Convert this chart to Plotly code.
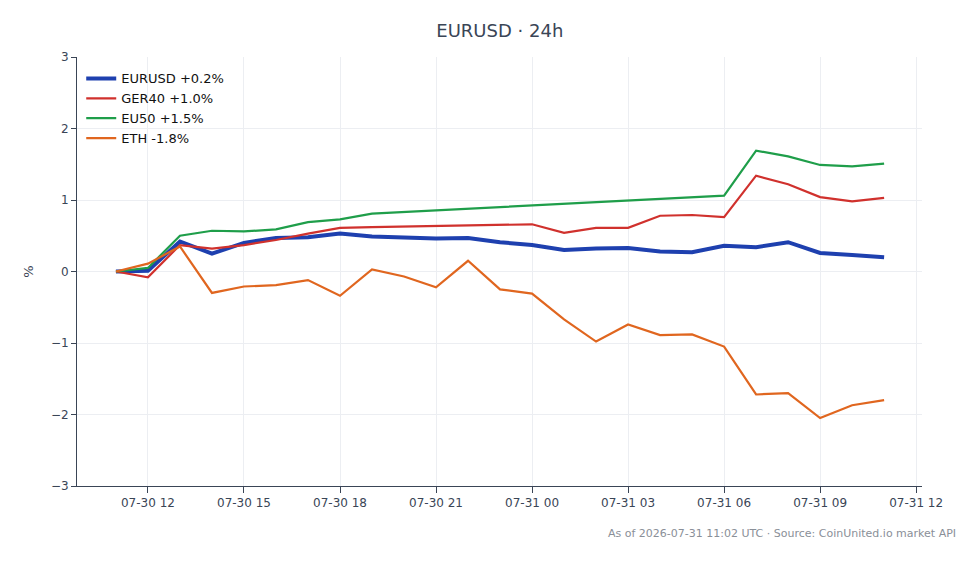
import plotly.graph_objects as go
import pandas as pd

times = pd.date_range("2026-07-30 11:00", periods=25, freq="h")

eurusd = [0.00, 0.01, 0.42, 0.25, 0.40, 0.47, 0.48, 0.53, 0.49, 0.47, 0.46, 0.47, 0.41,
          0.37, 0.30, 0.32, 0.33, 0.28, 0.27, 0.36, 0.34, 0.41, 0.26, 0.23, 0.20]
ger40 = [0.00, -0.08, 0.37, 0.32, 0.37, 0.44, 0.53, 0.61, 0.62, 0.63, 0.64, 0.64, 0.65,
         0.66, 0.54, 0.61, 0.61, 0.78, 0.79, 0.76, 1.34, 1.22, 1.04, 0.98, 1.03]
eu50 = [0.00, 0.05, 0.50, 0.57, 0.56, 0.59, 0.69, 0.73, 0.81, None, None, None, None,
        None, None, None, None, None, None, 1.06, 1.69, 1.61, 1.49, 1.47, 1.51]
eth = [0.00, 0.11, 0.35, -0.30, -0.21, -0.19, -0.12, -0.34, 0.03, -0.07, -0.22, 0.15, -0.25,
       -0.31, -0.67, -0.98, -0.74, -0.89, -0.88, -1.05, -1.72, -1.70, -2.05, -1.87, -1.80]

series_names = ["EURUSD +0.2%", "GER40 +1.0%", "EU50 +1.5%", "ETH -1.8%"]
series_vals = [eurusd, ger40, eu50, eth]
colors = ["#1e40af", "#d0312d", "#1f9e4a", "#e0661f"]
widths = [4, 2.2, 2.2, 2.2]

y_ticks = [-3, -2, -1, 0, 1, 2, 3]
y_tick_text = ["\u22123", "\u22122", "\u22121", "0", "1", "2", "3"]

FONT = "DejaVu Sans"
fig = go.Figure()
for name, vals, c, w in zip(series_names, series_vals, colors, widths):
    fig.add_trace(go.Scatter(x=times, y=vals, mode="lines", name=name,
                             line=dict(color=c, width=w), connectgaps=True))

fig.add_shape(type="line", xref="paper", x0=0, x1=1, yref="y", y0=0, y1=0,
              line=dict(color="#8a9aad", width=1, dash="dash"), layer="below")

fig.update_layout(
    width=980, height=564,
    margin=dict(l=77, r=58, t=57, b=78),
    paper_bgcolor="white", plot_bgcolor="white",
    font=dict(family=FONT, size=12, color="#3a4556"),
    title=dict(text="EURUSD \u00b7 24h", x=0.51, xanchor="center", y=1 - 31 / 564,
               yanchor="middle", font=dict(size=18, color="#3a4556", family=FONT)),
    legend=dict(x=0.005, y=0.985, xanchor="left", yanchor="top", bgcolor="rgba(0,0,0,0)",
                font=dict(size=13, color="#111111"), tracegroupgap=0),
    showlegend=True,
)
fig.update_xaxes(
    range=[pd.Timestamp("2026-07-30 09:47"), pd.Timestamp("2026-07-31 12:11")],
    tickformat="%m-%d %H", dtick=3 * 3600 * 1000,
    tick0="2026-07-30 00:00",
    showgrid=True, gridcolor="#eceef2", gridwidth=1,
    showline=True, linecolor="#3a4556", linewidth=1,
    ticks="outside", ticklen=6, tickcolor="#3a4556",
    tickfont=dict(size=12, color="#3a4556"), zeroline=False,
)
fig.update_yaxes(
    range=[-3, 3], tickvals=y_ticks, ticktext=y_tick_text,
    showgrid=True, gridcolor="#eceef2", gridwidth=1,
    showline=True, linecolor="#3a4556", linewidth=1,
    ticks="outside", ticklen=5, tickcolor="#3a4556",
    tickfont=dict(size=12, color="#3a4556"), zeroline=False,
    title=dict(text="%", font=dict(size=13, color="#3a4556"), standoff=14),
)
fig.add_annotation(text="As of 2026-07-31 11:02 UTC \u00b7 Source: CoinUnited.io market API",
                   xref="paper", yref="paper", x=1 + 36 / 845, y=-47 / 429,
                   xanchor="right", yanchor="middle", showarrow=False,
                   font=dict(size=11, color="#8a8f98", family=FONT))

fig.write_html("out.html")
